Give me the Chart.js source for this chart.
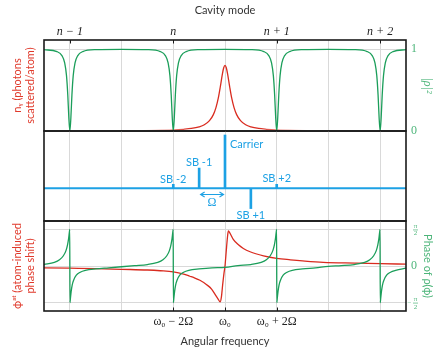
<!DOCTYPE html>
<html>
<head>
<meta charset="utf-8">
<title>Cavity modes, sidebands and phase</title>
<script src="https://cdn.jsdelivr.net/npm/chart.js@4.4.1/dist/chart.umd.min.js"></script>
<style>
  body { margin: 0; background: #fff; }
  #wrap { position: relative; width: 437px; height: 349px; }
  #wrap canvas { position: absolute; left: 0; top: 0; }
</style>
</head>
<body>
<div id="wrap">
  <canvas id="reflChart" width="437" height="349"></canvas>
  <canvas id="sbChart" width="437" height="349"></canvas>
  <canvas id="phaseChart" width="437" height="349"></canvas>
</div>
<script>
const Chart = window.Chart;

// frequency axis is in units of the modulation frequency Ω, centred on ω0
const gridFreq = [-6, -4, -2, 0, 2, 4, 6];
const modeTickPos = [-6, -2, 2, 6];
const modeTickLabels = ['n − 1', 'n', 'n + 1', 'n + 2'];
const freqTickPos = [-2, 0, 2];
const freqTickLabels = ['ω₀ − 2Ω', 'ω₀', 'ω₀ + 2Ω'];

// top panel: cavity reflectivity |ρ|² and scattered photons nγ
const reflFreq = [
  -7, -6.5, -6.3, -6.2, -6.13, -6.08, -6.04, -6, -5.96, -5.92, -5.87, -5.8, -5.7, -5.5,
  -5, -4, -3,
  -2.5, -2.3, -2.2, -2.13, -2.08, -2.04, -2, -1.96, -1.92, -1.87, -1.8, -1.7, -1.5,
  -1, 0, 1,
  1.5, 1.7, 1.8, 1.87, 1.92, 1.96, 2, 2.04, 2.08, 2.13, 2.2, 2.3, 2.5,
  3, 4, 5,
  5.5, 5.7, 5.8, 5.87, 5.92, 5.96, 6, 6.04, 6.08, 6.13, 6.2, 6.3, 6.5,
  7
];
const reflPower = [
  0.992, 0.969, 0.917, 0.832, 0.676, 0.441, 0.165, 0, 0.165, 0.441, 0.676, 0.832, 0.917, 0.969,
  0.992, 0.995, 0.992,
  0.969, 0.917, 0.832, 0.676, 0.441, 0.165, 0, 0.165, 0.441, 0.676, 0.832, 0.917, 0.969,
  0.992, 0.995, 0.992,
  0.969, 0.917, 0.832, 0.676, 0.441, 0.165, 0, 0.165, 0.441, 0.676, 0.832, 0.917, 0.969,
  0.992, 0.995, 0.992,
  0.969, 0.917, 0.832, 0.676, 0.441, 0.165, 0, 0.165, 0.441, 0.676, 0.832, 0.917, 0.969,
  0.992
];
const scatFreq = [-3.2, -2.5, -2, -1.6, -1.3, -1, -0.8, -0.6, -0.45, -0.35, -0.26, -0.18, -0.1, -0.05, 0,
  0.05, 0.1, 0.18, 0.26, 0.35, 0.45, 0.6, 0.8, 1, 1.3, 1.6, 2, 2.5, 3.2];
const scatPhotons = [0.005, 0.009, 0.013, 0.021, 0.031, 0.051, 0.076, 0.126, 0.2, 0.285, 0.4, 0.541, 0.697, 0.771, 0.8,
  0.771, 0.697, 0.541, 0.4, 0.285, 0.2, 0.126, 0.076, 0.051, 0.031, 0.021, 0.013, 0.009, 0.005];

// middle panel: carrier and sidebands
const sidebandFreq = [-2, -1, 0, 1, 2];
const sidebandAmp = [0.075, 0.38, 1, -0.38, 0.075];
const sidebandNames = ['SB -2', 'SB -1', 'Carrier', 'SB +1', 'SB +2'];

// bottom panel: phases, in units of π/2
const phaseFreq = [
  -7, -6.6, -6.4, -6.25, -6.15, -6.09, -6.05, -6.02, -6.004, -5.996, -5.98, -5.95, -5.91, -5.85, -5.75, -5.6, -5.4, -5, -4.5,
  -4,
  -3.5, -3, -2.6, -2.4, -2.25, -2.15, -2.09, -2.05, -2.02, -2.004, -1.996, -1.98, -1.95, -1.91, -1.85, -1.75, -1.6, -1.4, -1, -0.5,
  0,
  0.5, 1, 1.4, 1.6, 1.75, 1.85, 1.91, 1.95, 1.98, 1.996, 2.004, 2.02, 2.05, 2.09, 2.15, 2.25, 2.4, 2.6, 3, 3.5,
  4,
  4.5, 5, 5.4, 5.6, 5.75, 5.85, 5.91, 5.95, 5.98, 5.996, 6.004, 6.02, 6.05, 6.09, 6.15, 6.25, 6.4, 6.6, 7
];
const phaseRho = [
  0.04, 0.1, 0.17, 0.28, 0.42, 0.58, 0.74, 0.92, 1.0, -1.0, -0.9, -0.7, -0.52, -0.38, -0.25, -0.17, -0.12, -0.08, -0.05,
  -0.02,
  0.01, 0.04, 0.1, 0.17, 0.28, 0.42, 0.58, 0.74, 0.92, 1.0, -1.0, -0.9, -0.7, -0.52, -0.38, -0.25, -0.17, -0.12, -0.08, -0.05,
  -0.04,
  0.01, 0.04, 0.1, 0.17, 0.28, 0.42, 0.58, 0.74, 0.92, 1.0, -1.0, -0.9, -0.7, -0.52, -0.38, -0.25, -0.17, -0.12, -0.08, -0.05,
  -0.01,
  0.01, 0.04, 0.1, 0.17, 0.28, 0.42, 0.58, 0.74, 0.92, 1.0, -1.0, -0.9, -0.7, -0.52, -0.38, -0.25, -0.17, -0.12, -0.06
];
const atomFreq = [-7, -6, -5, -4, -3, -2.5, -2, -1.6, -1.36, -1.2, -0.97, -0.71, -0.52, -0.39, -0.26, -0.19, -0.14, -0.09, -0.04, 0,
  0.03, 0.06, 0.1, 0.13, 0.19, 0.32, 0.52, 0.71, 0.97, 1.49, 2, 2.53, 3, 3.8, 5.1, 6, 7];
const atomPhase = [-0.05, -0.06, -0.07, -0.09, -0.11, -0.13, -0.16, -0.22, -0.28, -0.32, -0.39, -0.51, -0.63, -0.77, -0.91, -0.98, -0.85, -0.51, -0.2, 0,
  0.25, 0.51, 0.82, 0.96, 0.9, 0.73, 0.58, 0.48, 0.39, 0.28, 0.21, 0.17, 0.14, 0.1, 0.08, 0.065, 0.05];

const GREEN = '#1b9e5a';
const GREEN_TXT = '#4db57a';
const RED = '#d92b1f';
const RED_TXT = '#e0392b';
const BLUE = '#1da1e4';
const GRID = '#d9d9d9';
const SANS = 'Lato';
const SERIF = 'Liberation Serif';

Chart.defaults.font.family = SANS;
Chart.defaults.color = '#333';

const pts = (xs, ys) => xs.map((x, i) => ({ x, y: ys[i] }));
const pickLabel = (pos, labels) => v => {
  const i = pos.indexOf(v);
  return i < 0 ? '' : labels[i];
};
const fixTicks = values => s => { s.ticks = values.map(value => ({ value })); };

// border box + small inward tick marks
const framePlugin = {
  id: 'frame',
  afterDatasetsDraw(chart, args, opts) {
    const { ctx, chartArea: a } = chart;
    const xs = chart.scales.x;
    ctx.save();
    ctx.strokeStyle = '#1a1a1a';
    ctx.lineWidth = 1;
    ctx.beginPath();
    (opts.topTicks || []).forEach(v => {
      const px = Math.round(xs.getPixelForValue(v)) + 0.5;
      ctx.moveTo(px, a.top); ctx.lineTo(px, a.top + 3.5);
    });
    (opts.bottomTicks || []).forEach(v => {
      const px = Math.round(xs.getPixelForValue(v)) + 0.5;
      ctx.moveTo(px, a.bottom); ctx.lineTo(px, a.bottom - 3.5);
    });
    ctx.stroke();
    ctx.lineWidth = 1.6;
    ctx.strokeRect(a.left, a.top, a.right - a.left, a.bottom - a.top);
    ctx.restore();
  }
};

function baseOptions(padding) {
  return {
    responsive: false,
    animation: false,
    devicePixelRatio: 1,
    layout: { padding },
    plugins: { legend: { display: false }, tooltip: { enabled: false } },
    elements: { point: { radius: 0 }, line: { borderWidth: 1.3, cubicInterpolationMode: 'monotone' } }
  };
}

function sideTitle(text, color, font, pad) {
  return { display: true, text, color, font, padding: { top: pad, bottom: 0 } };
}

// ---------- top panel ----------
const topOpts = baseOptions({ top: 0, bottom: 218, left: 0, right: 0 });
topOpts.plugins.frame = { topTicks: modeTickPos };
topOpts.scales = {
  x: {
    type: 'linear', position: 'top', min: -7, max: 7,
    afterBuildTicks: fixTicks(gridFreq),
    ticks: { autoSkip: false, maxRotation: 0, padding: 1,
      color: '#222', font: { family: SERIF, size: 12, style: 'italic' },
      callback: pickLabel(modeTickPos, modeTickLabels) },
    grid: { color: GRID, drawTicks: false },
    border: { display: false },
    title: { display: true, text: 'Cavity mode', color: '#333', font: { size: 11 }, padding: { top: 4, bottom: 0 } },
    afterFit: s => { s.height = 40; }
  },
  yL: {
    position: 'left', min: 0, max: 1.11,
    ticks: { display: false }, grid: { display: false }, border: { display: false },
    title: sideTitle(['nᵧ (photons', 'scattered/atom)'], RED_TXT, { size: 11 }, 10.4),
    afterFit: s => { s.width = 44; }
  },
  yR: {
    position: 'right', min: 0, max: 1.11,
    afterBuildTicks: fixTicks([0, 1]),
    ticks: { padding: 5, color: GREEN_TXT, font: { family: SERIF, size: 12 } },
    grid: { color: GRID, drawTicks: false }, border: { display: false },
    title: sideTitle('|ρ|²', GREEN_TXT, { family: SERIF, size: 12, style: 'italic' }, 3),
    afterFit: s => { s.width = 31; }
  }
};

new Chart(document.getElementById('reflChart'), {
  type: 'line',
  data: {
    datasets: [
      { label: '|ρ|²', data: pts(reflFreq, reflPower), borderColor: GREEN, yAxisID: 'yR' },
      {
        label: 'nγ', data: pts(scatFreq, scatPhotons), yAxisID: 'yR',
        borderColor: c => {
          const chart = c.chart;
          if (!chart.chartArea) return RED;
          const xs = chart.scales.x;
          const g = chart.ctx.createLinearGradient(
            xs.getPixelForValue(scatFreq[0]), 0, xs.getPixelForValue(scatFreq[scatFreq.length - 1]), 0);
          g.addColorStop(0, 'rgba(217,43,31,0)');
          g.addColorStop(0.3, RED);
          g.addColorStop(0.7, RED);
          g.addColorStop(1, 'rgba(217,43,31,0)');
          return g;
        }
      }
    ]
  },
  options: topOpts,
  plugins: [framePlugin]
});

// ---------- middle panel ----------
const sbLabelPlugin = {
  id: 'sbLabels',
  afterDatasetsDraw(chart) {
    const { ctx } = chart;
    const xs = chart.scales.x, ys = chart.scales.y;
    // where each name sits, relative to its line
    const place = {
      'SB -2': { dx: 0, y: 0.17, align: 'center' },
      'SB -1': { dx: 0, y: 0.48, align: 'center' },
      'Carrier': { dx: 5, y: 0.825, align: 'left' },
      'SB +1': { dx: 0, y: -0.5, align: 'center' },
      'SB +2': { dx: 0, y: 0.19, align: 'center' }
    };
    ctx.save();
    ctx.fillStyle = BLUE;
    ctx.strokeStyle = BLUE;
    ctx.font = '11px ' + SANS;
    ctx.textBaseline = 'middle';
    sidebandNames.forEach((name, i) => {
      const p = place[name];
      ctx.textAlign = p.align;
      ctx.fillText(name, xs.getPixelForValue(sidebandFreq[i]) + p.dx, ys.getPixelForValue(p.y));
    });
    // Ω spacing arrow between SB -1 and the carrier
    const y = Math.round(ys.getPixelForValue(-0.107)) + 0.5;
    const x1 = xs.getPixelForValue(sidebandFreq[1]) + 1.5;
    const x2 = xs.getPixelForValue(sidebandFreq[2]) - 1.5;
    ctx.lineWidth = 1.2;
    ctx.beginPath();
    ctx.moveTo(x1, y); ctx.lineTo(x2, y);
    ctx.moveTo(x1 + 4, y - 2.5); ctx.lineTo(x1, y); ctx.lineTo(x1 + 4, y + 2.5);
    ctx.moveTo(x2 - 4, y - 2.5); ctx.lineTo(x2, y); ctx.lineTo(x2 - 4, y + 2.5);
    ctx.stroke();
    ctx.textAlign = 'center';
    ctx.font = '12px ' + SERIF;
    ctx.fillText('Ω', (x1 + x2) / 2, ys.getPixelForValue(-0.28));
    ctx.restore();
  }
};

const midOpts = baseOptions({ top: 131, bottom: 128, left: 44, right: 31 });
midOpts.scales = {
  x: {
    type: 'linear', min: -7, max: 7, offset: false,
    afterBuildTicks: fixTicks(gridFreq),
    ticks: { display: false },
    grid: { color: GRID, drawTicks: false, offset: false },
    border: { display: false },
    afterFit: s => { s.height = 0; }
  },
  y: { display: false, min: -0.613, max: 1.075 }
};

new Chart(document.getElementById('sbChart'), {
  type: 'bar',
  data: {
    datasets: [
      { type: 'line', label: 'baseline', data: [{ x: -7, y: 0 }, { x: 7, y: 0 }], borderColor: BLUE, borderWidth: 2 },
      { type: 'bar', label: 'spectrum', data: pts(sidebandFreq, sidebandAmp), backgroundColor: BLUE, barThickness: 2, borderWidth: 0 }
    ]
  },
  options: midOpts,
  plugins: [sbLabelPlugin, framePlugin]
});

// ---------- bottom panel ----------
const fracPlugin = {
  id: 'piFractions',
  afterDraw(chart) {
    const { ctx, chartArea: a } = chart;
    const s = chart.scales.yR;
    const cx = a.right + 9.5;
    ctx.save();
    ctx.fillStyle = GREEN_TXT;
    ctx.strokeStyle = GREEN_TXT;
    ctx.lineWidth = 0.7;
    ctx.font = '7px ' + SERIF;
    ctx.textAlign = 'center';
    ctx.textBaseline = 'middle';
    [1, -1].forEach(v => {
      const y = s.getPixelForValue(v);
      ctx.fillText('π', cx, y - 3.2);
      ctx.beginPath(); ctx.moveTo(cx - 2.5, y + 0.5); ctx.lineTo(cx + 2.5, y + 0.5); ctx.stroke();
      ctx.fillText('2', cx, y + 4.2);
      if (v < 0) ctx.fillText('−', cx - 6, y + 0.5);
    });
    ctx.restore();
  }
};

const botOpts = baseOptions({ top: 221, bottom: 0, left: 0, right: 0 });
botOpts.plugins.frame = { bottomTicks: freqTickPos };
botOpts.scales = {
  x: {
    type: 'linear', position: 'bottom', min: -7, max: 7,
    afterBuildTicks: fixTicks(gridFreq),
    ticks: { autoSkip: false, maxRotation: 0, padding: 4,
      color: '#222', font: { family: SERIF, size: 12 },
      callback: pickLabel(freqTickPos, freqTickLabels) },
    grid: { color: GRID, drawTicks: false },
    border: { display: false },
    title: { display: true, text: 'Angular frequency', color: '#333', font: { size: 11 }, padding: { top: 0, bottom: 1.4 } },
    afterFit: s => { s.height = 38; }
  },
  yL: {
    position: 'left', min: -1.23, max: 1.23,
    ticks: { display: false }, grid: { display: false }, border: { display: false },
    title: sideTitle(['ϕᵃᵗ (atom-induced', 'phase shift)'], RED_TXT, { size: 11 }, 10.4),
    afterFit: s => { s.width = 44; }
  },
  yR: {
    position: 'right', min: -1.23, max: 1.23,
    afterBuildTicks: fixTicks([-1, 0, 1]),
    ticks: { padding: 5, color: GREEN_TXT, font: { family: SERIF, size: 12 },
      callback: v => (v === 0 ? '0' : '') },
    grid: { color: GRID, drawTicks: false }, border: { display: false },
    title: sideTitle('Phase of ρ(ϕ)', GREEN_TXT, { size: 11 }, 3),
    afterFit: s => { s.width = 31; }
  }
};

new Chart(document.getElementById('phaseChart'), {
  type: 'line',
  data: {
    datasets: [
      { label: 'Phase of ρ', data: pts(phaseFreq, phaseRho), borderColor: GREEN, yAxisID: 'yR' },
      { label: 'ϕat', data: pts(atomFreq, atomPhase), borderColor: RED, yAxisID: 'yR' }
    ]
  },
  options: botOpts,
  plugins: [fracPlugin, framePlugin]
});
</script>
</body>
</html>
